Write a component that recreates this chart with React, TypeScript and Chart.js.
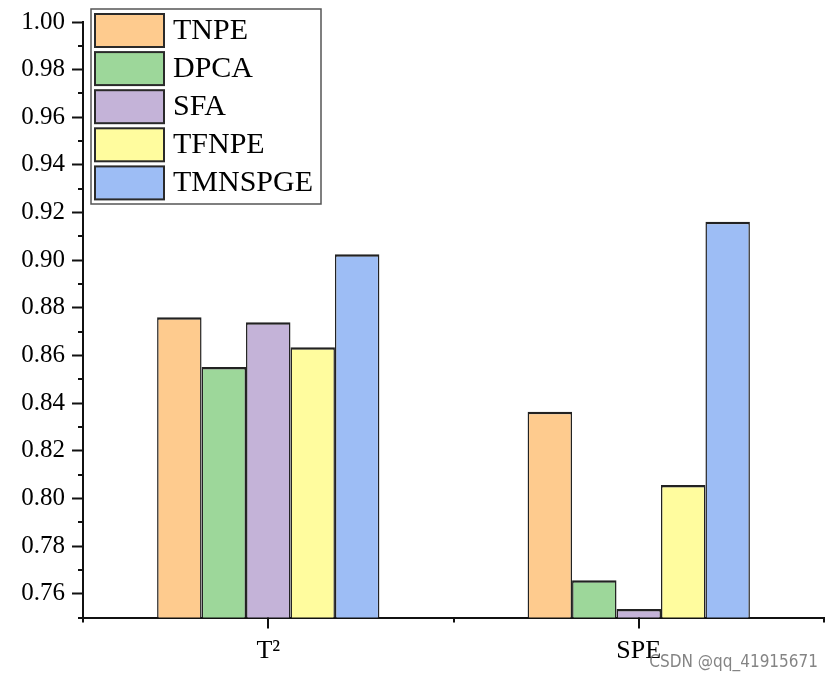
import { useEffect, useRef } from "react";
import { Chart, registerables } from "chart.js";

Chart.register(...registerables);

const categories = ["T²", "SPE"];
const seriesNames = ["TNPE", "DPCA", "SFA", "TFNPE", "TMNSPGE"];
const tnpeValues = [0.876, 0.8364];
const dpcaValues = [0.8552, 0.7656];
const sfaValues = [0.8739, 0.7536];
const tfnpeValues = [0.8635, 0.8056];
const tmnspgeValues = [0.9025, 0.9161];
const seriesColors = ["#FECB8E", "#9DD79A", "#C4B3D8", "#FFFC9E", "#9DBDF5"];
const yMajorTicks = [0.76, 0.78, 0.8, 0.82, 0.84, 0.86, 0.88, 0.9, 0.92, 0.94, 0.96, 0.98, 1.0];
const yMinorTicks = [0.75, 0.77, 0.79, 0.81, 0.83, 0.85, 0.87, 0.89, 0.91, 0.93, 0.95, 0.97, 0.99];
const watermark = "CSDN @qq_41915671";

const SERIF = "'Liberation Serif', 'Times New Roman', serif";

const axesAndLegendPlugin = {
  id: "axesAndLegend",
  afterDraw(chart: any) {
    const ctx = chart.ctx as CanvasRenderingContext2D;
    const y = chart.scales.y;
    const x = chart.scales.x;
    const area = chart.chartArea;
    ctx.save();
    ctx.strokeStyle = "#111";
    ctx.lineWidth = 2;
    // y minor ticks
    for (const v of yMinorTicks) {
      const py = Math.round(y.getPixelForValue(v));
      ctx.beginPath();
      ctx.moveTo(area.left - 5, py);
      ctx.lineTo(area.left, py);
      ctx.stroke();
    }
    // x ticks: major at centers, minor at boundaries
    const centers = categories.map((_, i) => x.getPixelForValue(i));
    const half = (centers[1] - centers[0]) / 2;
    const bounds = [centers[0] - half, ...centers.map((c) => c + half)];
    for (const c of centers) {
      ctx.beginPath();
      ctx.moveTo(Math.round(c), area.bottom);
      ctx.lineTo(Math.round(c), area.bottom + 11);
      ctx.stroke();
    }
    for (const b of bounds) {
      ctx.beginPath();
      ctx.moveTo(Math.round(b), area.bottom);
      ctx.lineTo(Math.round(b), area.bottom + 5);
      ctx.stroke();
    }

    // legend
    const lx = 91, ly = 9, lw = 230, lh = 195;
    ctx.lineWidth = 1.5;
    ctx.strokeStyle = "#555";
    ctx.strokeRect(lx, ly, lw, lh);
    const datasets = chart.data.datasets;
    datasets.forEach((ds: any, i: number) => {
      const sy = 14 + i * 38.1;
      ctx.fillStyle = ds.backgroundColor;
      ctx.fillRect(95, sy, 69, 33);
      ctx.lineWidth = 2;
      ctx.strokeStyle = "#2a2a2a";
      ctx.strokeRect(95, sy, 69, 33);
      ctx.fillStyle = "#000";
      ctx.font = `30px ${SERIF}`;
      ctx.textAlign = "left";
      ctx.textBaseline = "middle";
      ctx.fillText(ds.label, 173, sy + 17);
    });

    // watermark
    ctx.font = "17px 'DejaVu Sans Condensed', 'Roboto', sans-serif";
    ctx.textAlign = "right";
    ctx.textBaseline = "middle";
    ctx.fillStyle = "rgba(110,110,110,0.85)";
    ctx.fillText(watermark, 818, 663);
    ctx.restore();
  },
};

export default function App() {
  const canvasRef = useRef<HTMLCanvasElement | null>(null);

  useEffect(() => {
    document.body.style.margin = "0";
    const canvas = canvasRef.current;
    if (!canvas) return;
    const valueSets = [tnpeValues, dpcaValues, sfaValues, tfnpeValues, tmnspgeValues];
    const chart = new Chart(canvas, {
      type: "bar",
      data: {
        labels: categories,
        datasets: seriesNames.map((name, i) => ({
          label: name,
          data: valueSets[i],
          backgroundColor: seriesColors[i],
          borderColor: "#222",
          borderWidth: { top: 2.5, left: 1.5, right: 1.5, bottom: 0 },
          barPercentage: 1,
          categoryPercentage: 0.6,
        })),
      },
      options: {
        responsive: false,
        animation: false,
        layout: { padding: { top: 22, right: 10, bottom: 0, left: 0 } },
        plugins: {
          legend: { display: false },
          tooltip: { enabled: false },
        },
        scales: {
          x: {
            grid: { display: false },
            border: { display: true, color: "#111", width: 2 },
            ticks: {
              color: "#000",
              font: { family: SERIF, size: 26 },
              padding: 10,
            },
            afterFit: (scale: any) => {
              scale.height = 63.5;
            },
          },
          y: {
            min: 0.75,
            max: 1.0,
            grid: {
              drawOnChartArea: false,
              drawTicks: true,
              tickLength: 11,
              tickColor: "#111",
              tickWidth: 2,
            },
            border: { display: true, color: "#111", width: 2 },
            ticks: {
              color: "#000",
              font: { family: SERIF, size: 25 },
              padding: 7,
              callback: (v: any) => Number(v).toFixed(2),
            },
            afterBuildTicks: (scale: any) => {
              scale.ticks = yMajorTicks.map((v) => ({ value: v }));
            },
            afterFit: (scale: any) => {
              scale.width = 83;
            },
          },
        },
      },
      plugins: [axesAndLegendPlugin],
    });
    return () => chart.destroy();
  }, []);

  return (
    <div style={{ width: 834, height: 681, background: "#fff" }}>
      <canvas ref={canvasRef} width={834} height={681} />
    </div>
  );
}
